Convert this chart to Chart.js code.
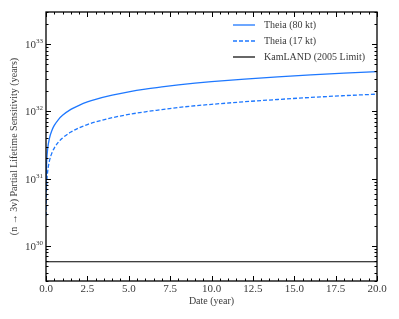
<!DOCTYPE html>
<html>
<head>
<meta charset="utf-8">
<script src="https://cdn.jsdelivr.net/npm/chart.js@4/dist/chart.umd.min.js"></script>
<style>
    html, body { margin: 0; padding: 0; background: #fff; }
</style>
</head>
<body>
<canvas id="sensChart" width="399" height="319"></canvas>
<script>
// Données (années, durée de vie partielle en années)
const years = [0.005, 0.02, 0.05, 0.1, 0.2, 0.35, 0.5, 0.75, 1, 1.5, 2, 2.5, 3, 4, 5, 6, 7, 8, 9, 10, 12, 14, 16, 18, 20];
const theia80 = [6.2e30, 1.23e31, 1.95e31, 2.76e31, 3.9e31, 5.16e31, 6.17e31, 7.55e31, 8.72e31, 1.07e32, 1.23e32, 1.38e32, 1.51e32,
    1.74e32, 1.95e32, 2.14e32, 2.31e32, 2.47e32, 2.62e32, 2.76e32, 3.02e32, 3.26e32, 3.49e32, 3.70e32, 3.90e32];
const theia17 = [2.8e30, 5.7e30, 9.0e30, 1.27e31, 1.8e31, 2.38e31, 2.84e31, 3.48e31, 4.02e31, 4.92e31, 5.69e31, 6.36e31, 6.96e31,
    8.04e31, 8.99e31, 9.85e31, 1.06e32, 1.14e32, 1.21e32, 1.27e32, 1.39e32, 1.50e32, 1.61e32, 1.71e32, 1.80e32];
const kamlandYears = [0, 20];
const kamlandLimit = [5.8e29, 5.8e29];

const xTickLabels = ['0.0', '2.5', '5.0', '7.5', '10.0', '12.5', '15.0', '17.5', '20.0'];
const yDecades = [30, 31, 32, 33];

const labels = ['Theia (80 kt)', 'Theia (17 kt)', 'KamLAND (2005 Limit)'];
const blue = 'rgb(30, 120, 255)';
const textColor = '#3a3a3a';
const serif = '"Liberation Serif", "DejaVu Serif", serif';

function toPoints(xs, ys) {
    return xs.map((x, i) => ({ x: x, y: ys[i] }));
}

// Axes, graduations vers l'intérieur et légende dessinés à la main
const axesPlugin = {
    id: 'axesPlugin',
    afterDraw(chart) {
        const ctx = chart.ctx;
        const ca = chart.chartArea;
        const xs = chart.scales.x;
        const ys = chart.scales.y;
        ctx.save();

        function line(x1, y1, x2, y2) {
            ctx.beginPath();
            ctx.moveTo(x1, y1);
            ctx.lineTo(x2, y2);
            ctx.stroke();
        }

        ctx.strokeStyle = '#000';
        ctx.lineWidth = 1;
        // graduations x (majeures tous les 2.5, mineures tous les 0.5)
        for (let i = 0; i <= 40; i++) {
            const px = Math.round(xs.getPixelForValue(i * 0.5)) + 0.5;
            const len = i % 5 === 0 ? 5 : 2.5;
            line(px, ca.bottom, px, ca.bottom - len);
            line(px, ca.top, px, ca.top + len);
        }
        // graduations y (log)
        for (let d = 29; d <= 33; d++) {
            for (let m = 1; m <= 9; m++) {
                const v = m * Math.pow(10, d);
                if (v < ys.min || v > ys.max) continue;
                const py = Math.round(ys.getPixelForValue(v)) + 0.5;
                const len = m === 1 ? 5 : 2.5;
                line(ca.left, py, ca.left + len, py);
                line(ca.right, py, ca.right - len, py);
            }
        }

        // cadre
        ctx.lineWidth = 1.3;
        ctx.strokeRect(ca.left, ca.top, ca.right - ca.left, ca.bottom - ca.top);

        // libellés x
        ctx.fillStyle = textColor;
        ctx.font = '11px ' + serif;
        ctx.textAlign = 'center';
        ctx.textBaseline = 'top';
        xTickLabels.forEach((lab, i) => {
            ctx.fillText(lab, xs.getPixelForValue(i * 2.5), ca.bottom + 3);
        });

        // libellés y : 10^n
        yDecades.forEach(d => {
            const py = ys.getPixelForValue(Math.pow(10, d));
            ctx.font = '7px ' + serif;
            const supW = ctx.measureText(String(d)).width;
            ctx.textAlign = 'left';
            ctx.textBaseline = 'alphabetic';
            ctx.fillText(String(d), ca.left - 3 - supW, py - 1);
            ctx.font = '11px ' + serif;
            ctx.textAlign = 'right';
            ctx.fillText('10', ca.left - 3 - supW, py + 4);
        });

        // titres des axes
        ctx.font = '10px ' + serif;
        ctx.textAlign = 'center';
        ctx.textBaseline = 'middle';
        ctx.fillText('Date (year)', (ca.left + ca.right) / 2, ca.bottom + 20);
        ctx.save();
        ctx.translate(14, (ca.top + ca.bottom) / 2);
        ctx.rotate(-Math.PI / 2);
        ctx.fillText('(n \u2192 3\u03BD) Partial Lifetime Sensitivity (years)', 0, 0);
        ctx.restore();

        // légende
        const legendY = [25, 41, 57];
        chart.data.datasets.forEach((ds, i) => {
            ctx.strokeStyle = ds.borderColor;
            ctx.lineWidth = ds.borderWidth;
            ctx.setLineDash(ds.borderDash || []);
            line(233, legendY[i], 255, legendY[i]);
            ctx.setLineDash([]);
            ctx.fillStyle = textColor;
            ctx.font = '10px ' + serif;
            ctx.textAlign = 'left';
            ctx.textBaseline = 'middle';
            ctx.fillText(ds.label, 264, legendY[i]);
        });

        ctx.restore();
    }
};

const ctx = document.getElementById('sensChart').getContext('2d');

new Chart(ctx, {
    type: 'line',
    data: {
        datasets: [
            {
                label: labels[0],
                data: toPoints(years, theia80),
                borderColor: blue,
                borderWidth: 1.3,
                pointRadius: 0,
                cubicInterpolationMode: 'monotone'
            },
            {
                label: labels[1],
                data: toPoints(years, theia17),
                borderColor: blue,
                borderWidth: 1.3,
                borderDash: [4, 2],
                pointRadius: 0,
                cubicInterpolationMode: 'monotone'
            },
            {
                label: labels[2],
                data: toPoints(kamlandYears, kamlandLimit),
                borderColor: '#000',
                borderWidth: 1.2,
                pointRadius: 0
            }
        ]
    },
    options: {
        responsive: false,
        animation: false,
        devicePixelRatio: 1,
        layout: {
            padding: { left: 46, right: 22, top: 12, bottom: 38 }
        },
        plugins: {
            legend: { display: false },
            tooltip: { enabled: false }
        },
        scales: {
            x: {
                type: 'linear',
                min: 0,
                max: 20,
                display: false
            },
            y: {
                type: 'logarithmic',
                min: 3e29,
                max: 3e33,
                display: false
            }
        }
    },
    plugins: [axesPlugin]
});
</script>
</body>
</html>
